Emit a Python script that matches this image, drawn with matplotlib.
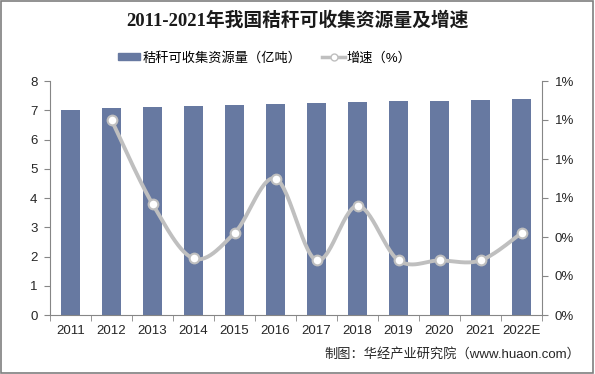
import numpy as np
import matplotlib.pyplot as plt
from matplotlib.ticker import FuncFormatter, MultipleLocator
from matplotlib.patches import Patch
from matplotlib.lines import Line2D

plt.rcParams['font.family'] = ['Liberation Sans', 'Noto Sans CJK SC']

years = ['2011', '2012', '2013', '2014', '2015', '2016', '2017', '2018',
         '2019', '2020', '2021', '2022E']
straw = [7.01, 7.08, 7.11, 7.15, 7.18, 7.21, 7.25, 7.28, 7.30, 7.33, 7.36, 7.39]
# growth rate in %, starts from 2012
growth = [1.00, 0.57, 0.29, 0.42, 0.70, 0.28, 0.56, 0.28, 0.28, 0.28, 0.42]

bar_color = '#6779A1'
line_color = '#BFBFBF'
axis_color = '#868686'


def smooth(xs, ys, n=30, t=0.5):
    # cardinal spline through the points, like the office chart smoothing
    xs = np.asarray(xs, float)
    ys = np.asarray(ys, float)
    px = np.concatenate(([xs[0]], xs, [xs[-1]]))
    py = np.concatenate(([ys[0]], ys, [ys[-1]]))
    outx, outy = [], []
    for i in range(1, len(px) - 2):
        p0, p1, p2, p3 = (np.array([px[j], py[j]]) for j in (i - 1, i, i + 1, i + 2))
        c1 = p1 + (p2 - p0) * t / 3
        c2 = p2 - (p3 - p1) * t / 3
        s = np.linspace(0, 1, n)[:, None]
        pts = (1 - s) ** 3 * p1 + 3 * (1 - s) ** 2 * s * c1 + 3 * (1 - s) * s ** 2 * c2 + s ** 3 * p2
        outx.extend(pts[:, 0])
        outy.extend(pts[:, 1])
    return np.array(outx), np.array(outy)


fig = plt.figure(figsize=(5.95, 3.74), dpi=100)
fig.patches.append(plt.Rectangle((0.002, 0.003), 0.995, 0.994, transform=fig.transFigure,
                                 fill=False, edgecolor='#7F7F7F', linewidth=1.2))

ax = fig.add_axes([50 / 595, 1 - 315 / 374, 492 / 595, 234 / 374])
x = np.arange(len(years))
ax.bar(x, straw, width=0.44, color=bar_color, zorder=2)
ax.set_xlim(-0.5, len(years) - 0.5)
ax.set_ylim(0, 8)
ax.yaxis.set_major_locator(MultipleLocator(1))
ax.set_xticks(x)
ax.set_xticklabels(years)
ax.set_xticks(np.arange(-0.5, len(years), 1), minor=True)
ax.tick_params(axis='x', which='major', length=0, pad=7, labelsize=9.5, labelcolor='#262626')
ax.tick_params(axis='x', which='minor', length=4, color=axis_color, direction='out')
ax.tick_params(axis='y', length=4, color=axis_color, labelsize=9.5, labelcolor='#262626', pad=5)
for side in ['top', 'right']:
    ax.spines[side].set_visible(False)
for side in ['left', 'bottom']:
    ax.spines[side].set_color(axis_color)

ax2 = ax.twinx()
ax2.set_ylim(0, 1.2)
ax2.yaxis.set_major_locator(MultipleLocator(0.2))
ax2.yaxis.set_major_formatter(FuncFormatter(lambda v, p: '%d%%' % round(v + 1e-9)))
ax2.tick_params(axis='y', length=4, color=axis_color, labelsize=9.5, labelcolor='#262626', pad=5)
for side in ['top', 'left', 'bottom']:
    ax2.spines[side].set_visible(False)
ax2.spines['right'].set_color(axis_color)

gx = x[1:]
sx, sy = smooth(gx, growth)
ax2.plot(sx, sy, color=line_color, linewidth=2.8, zorder=3, solid_capstyle='round')
ax2.plot(gx, growth, linestyle='none', marker='o', markersize=7,
         markerfacecolor='white', markeredgecolor=line_color, markeredgewidth=1.5, zorder=4)

# legend
handles = [Patch(color=bar_color, label='秸秆可收集资源量（亿吨）'),
           Line2D([0], [0], color=line_color, linewidth=2.5, marker='o', markersize=5,
                  markerfacecolor='white', markeredgecolor=line_color, label='增速（%）')]
fig.legend(handles=handles, loc='center', bbox_to_anchor=(0.445, 1 - 58 / 374), ncol=2,
           frameon=False, fontsize=9.5, handlelength=1.7, handleheight=0.5,
           columnspacing=1.6, handletextpad=0.15)

fig.text(0.5, 1 - 20 / 374, '2011-2021年我国秸秆可收集资源量及增速', ha='center', va='center',
         fontsize=13.5, fontweight='bold', color='#1A1A1A',
         family=['Liberation Serif', 'Noto Sans CJK SC'])
fig.text(580 / 595, 1 - 354 / 374, '制图：华经产业研究院（www.huaon.com）', ha='right', va='center',
         fontsize=9.5, color='#262626')

fig.savefig('out.png', dpi=100)
